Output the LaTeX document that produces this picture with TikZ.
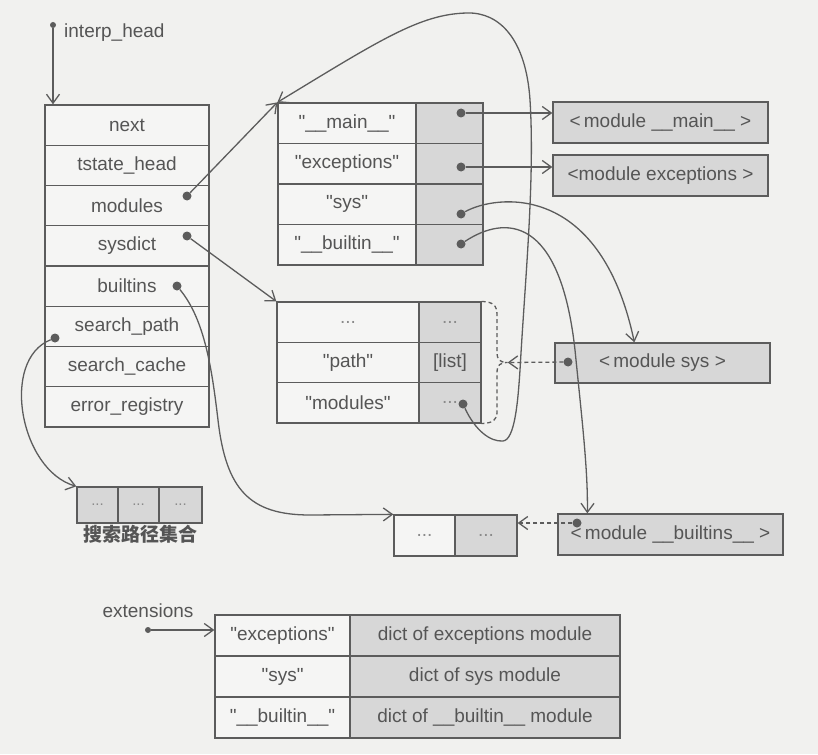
\documentclass[tikz,border=0pt]{standalone}
\usepackage{fontspec}
\setmainfont{Liberation Sans}[Ligatures=TeXOff]
\newfontfamily\cjk{Noto Sans CJK SC}
\usetikzlibrary{arrows.meta}
\definecolor{linec}{HTML}{5C5C5C}
\definecolor{txtc}{HTML}{555555}
\definecolor{dotc}{HTML}{8A8A8A}
\definecolor{gfill}{HTML}{D7D7D7}
\definecolor{bgc}{HTML}{F1F1EF}
\definecolor{wfill}{HTML}{F5F5F4}
\begin{document}
\begin{tikzpicture}[x=1pt,y=-1pt,
 cell/.style={draw=linec, line width=1.3pt, fill=wfill, inner sep=0pt, text=txtc, font=\fontsize{19}{22}\selectfont},
 gcell/.style={cell, fill=gfill},
 dotn/.style={circle, fill=linec, inner sep=0pt, minimum size=9pt},
 sdot/.style={circle, fill=linec, inner sep=0pt, minimum size=6pt},
 arr/.style={draw=linec, line width=1.3pt, -{Straight Barb[length=9pt,width=13pt]}},
 conn/.style={draw=linec, line width=1.3pt},
 dsh/.style={dash pattern=on 4pt off 3pt},
 lbl/.style={text=txtc, font=\fontsize{19}{22}\selectfont, inner sep=0pt}
]
\fill[bgc] (0,0) rectangle (818,754);
\useasboundingbox (0,0) rectangle (818,754);

% interp struct
\begin{scope}[every node/.append style={cell, minimum width=164pt, minimum height=40.25pt}]
\node (inext) at (127,125.1) {next};
\node (itst)  at (127,165.4) {tstate\_head};
\node (imod)  at (127,205.6) {modules};
\node (isd)   at (127,245.9) {sysdict};
\node (ibt)   at (127,286.1) {builtins};
\node (isp)   at (127,326.4) {search\_path};
\node (isc)   at (127,366.6) {search\_cache};
\node (ier)   at (127,406.9) {error\_registry};
\end{scope}

% interp_head
\node[sdot] (ihd) at (53,25) {};
\node[lbl, anchor=west] (ihl) at (64,33) {interp\_head};
\draw[arr] (ihd) -- (inext.north -| ihd);

% modules dict
\begin{scope}[every node/.append style={minimum height=40.5pt}]
\node[cell, minimum width=138pt] (m1a) at (347,123.25) {"\_\_main\_\_"};
\node[gcell, minimum width=67pt] (m1b) at (449.5,123.25) {};
\node[cell, minimum width=138pt] (m2a) at (347,163.75) {"exceptions"};
\node[gcell, minimum width=67pt] (m2b) at (449.5,163.75) {};
\node[cell, minimum width=138pt] (m3a) at (347,204.25) {"sys"};
\node[gcell, minimum width=67pt] (m3b) at (449.5,204.25) {};
\node[cell, minimum width=138pt] (m4a) at (347,244.75) {"\_\_builtin\_\_"};
\node[gcell, minimum width=67pt] (m4b) at (449.5,244.75) {};
\end{scope}

% module boxes
\node[gcell, minimum width=215pt, minimum height=41pt] (mmain) at (660.5,122.5) {<\,module \_\_main\_\_ >};
\node[gcell, minimum width=215pt, minimum height=41pt] (mexc) at (660.5,175.5) {<module exceptions >};
\node[gcell, minimum width=215pt, minimum height=40pt] (msys) at (662.5,363) {<\,module sys >};
\node[gcell, minimum width=225pt, minimum height=41pt] (mbi) at (670.5,534.5) {<\,module \_\_builtins\_\_ >};

% sysdict dict
\begin{scope}[every node/.append style={minimum height=40.3pt}]
\node[cell, minimum width=142pt] (s1a) at (348,322.2) {\textcolor{dotc}{...}};
\node[gcell, minimum width=62pt] (s1b) at (450,322.2) {\textcolor{dotc}{...}};
\node[cell, minimum width=142pt] (s2a) at (348,362.5) {"path"};
\node[gcell, minimum width=62pt] (s2b) at (450,362.5) {[list]};
\node[cell, minimum width=142pt] (s3a) at (348,402.8) {"modules"};
\node[gcell, minimum width=62pt] (s3b) at (450,402.8) {\textcolor{dotc}{...}};
\end{scope}

% small builtins dict
\node[cell, minimum width=61pt, minimum height=41pt] (bdl) at (424.5,535.5) {\textcolor{dotc}{...}};
\node[gcell, minimum width=62pt, minimum height=41pt] (bdr) at (486,535.5) {\textcolor{dotc}{...}};

% search path set
\begin{scope}[every node/.append style={gcell, minimum height=36pt, font=\fontsize{15}{18}\selectfont}]
\node[minimum width=41pt] (sp1) at (97.5,505) {\textcolor{dotc}{...}};
\node[minimum width=41pt] (sp2) at (138.5,505) {\textcolor{dotc}{...}};
\node[minimum width=43pt] (sp3) at (180.5,505) {\textcolor{dotc}{...}};
\end{scope}
\node[text=txtc, inner sep=0pt, font=\cjk\bfseries\fontsize{19}{22}\selectfont] (splbl) at (140,534) {搜索路径集合};

% extensions table
\node[lbl] (extl) at (148,611) {extensions};
\node[sdot] (extd) at (148,630) {};
\begin{scope}[every node/.append style={minimum height=41pt}]
\node[cell, minimum width=135pt] (e1a) at (282.5,635.5) {"exceptions"};
\node[gcell, minimum width=270pt] (e1b) at (485,635.5) {dict of exceptions module};
\node[cell, minimum width=135pt] (e2a) at (282.5,676.5) {"sys"};
\node[gcell, minimum width=270pt] (e2b) at (485,676.5) {dict of sys module};
\node[cell, minimum width=135pt] (e3a) at (282.5,717.5) {"\_\_builtin\_\_"};
\node[gcell, minimum width=270pt] (e3b) at (485,717.5) {dict of \_\_builtin\_\_ module};
\end{scope}
\draw[arr] (extd) -- (extd -| e1a.west);

% dots
\node[dotn] (dmod) at (187,196) {};
\node[dotn] (dsd) at (187,236) {};
\node[dotn] (dbt) at (177,286) {};
\node[dotn] (dsp) at (55,338) {};
\node[dotn] (dmain) at (461,113) {};
\node[dotn] (dexc) at (461,167) {};
\node[dotn] (dsys) at (461,214) {};
\node[dotn] (dbin) at (461,244) {};
\node[dotn] (dsmod) at (463,404) {};
\node[dotn] (dmsys) at (568,362) {};
\node[dotn] (dmbi) at (577,523) {};
\coordinate (btip) at ([xshift=26pt]s2b.east);

% connectors
\draw[arr] (dmod) -- (m1a.north west);
\draw[arr] (dsd) -- (s1a.north west);
\draw[arr] (dmain) -- (dmain -| mmain.west);
\draw[arr] (dexc) -- (dexc -| mexc.west);
\draw[arr] (dsys) .. controls (495,195) and (600,180) .. ([xshift=80pt]msys.north west);
\draw[arr] (dbin) .. controls (505,215) and (560,215) .. (575,350) .. controls (582,420) and (588,470) .. ([xshift=30pt]mbi.north west);
\draw[arr] (dsmod) .. controls (475,430) and (490,442) .. (503,441) .. controls (515,440) and (518,400) .. (520,370) .. controls (525,280) and (535,180) .. (530,100) .. controls (526,40) and (500,12) .. (467,13) .. controls (420,14) and (380,40) .. (m1a.north west);
\draw[arr] (dbt) .. controls (205,320) and (212,370) .. (218,420) .. controls (226,490) and (250,515) .. (310,515) -- (bdl.north west);
\draw[arr] (dsp) .. controls (0,360) and (20,470) .. (sp1.north west);
\draw[conn, dsh] (s1b.north east) .. controls (493,302) and (497,305) .. (497,315) -- (497,352) .. controls (497,360) and (500,362.5) .. (btip) .. controls (500,362.5) and (497,365) .. (497,373) -- (497,412) .. controls (497,420) and (493,423) .. (s3b.south east);
\draw[arr, dsh] (dmsys) -- (btip);
\draw[arr, dsh] (dmbi) -- (dmbi -| bdr.east);
\end{tikzpicture}
\end{document}
